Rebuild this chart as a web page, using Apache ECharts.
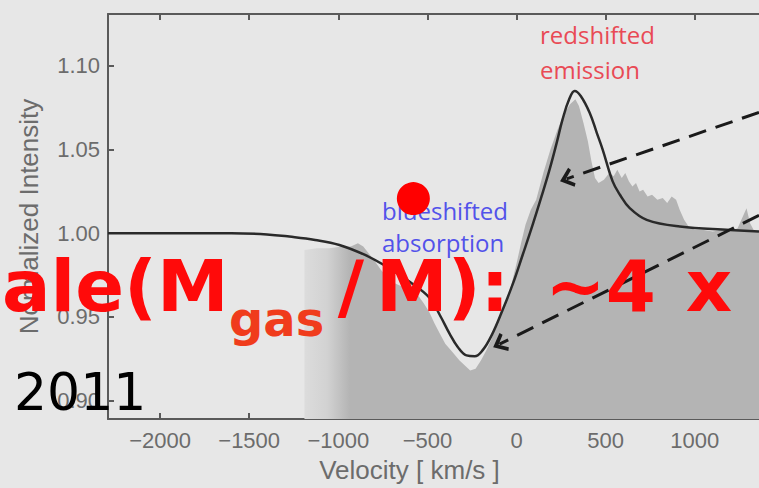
<!DOCTYPE html>
<html><head><meta charset="utf-8">
<script src="https://cdn.jsdelivr.net/npm/echarts@6/dist/echarts.min.js"></script>
<style>html,body{margin:0;padding:0;background:#e7e7e7}#c{width:759px;height:488px}</style>
</head><body><div id="c"></div>
<script>
// Model (black line)
const modelVelocity = [-2292,-1600,-1400,-1275,-1130,-994,-850,-713,-600,-489,-430,-376,-330,-281,-235,-191,-140,-79,-20,34,90,140,185,225,258,295,326,360,410,450,483,539,580,635,730,916,1197,1360];
const modelIntensity = [1.000,1.000,0.9993,0.998,0.996,0.993,0.987,0.979,0.971,0.9615,0.951,0.940,0.932,0.927,0.9265,0.930,0.939,0.954,0.970,0.987,1.005,1.022,1.038,1.054,1.068,1.080,1.085,1.082,1.072,1.060,1.050,1.031,1.023,1.015,1.008,1.004,1.002,1.001];
// Observed spectrum (grey fill)
const spectrumVelocity = [-1190,-1120,-1050,-980,-930,-890,-860,-830,-800,-760,-720,-680,-640,-600,-560,-520,-490,-460,-430,-400,-360,-320,-290,-260,-230,-200,-170,-140,-110,-80,-50,-25,0,25,50,80,110,150,190,230,270,300,330,350,375,400,420,440,460,490,520,545,565,590,610,630,650,670,690,710,735,760,790,820,845,870,895,915,940,965,1000,1050,1100,1150,1200,1240,1265,1290,1310,1330,1360];
const spectrumIntensity = [0.990,0.991,0.991,0.992,0.992,0.994,0.992,0.988,0.984,0.978,0.973,0.970,0.968,0.967,0.964,0.958,0.953,0.946,0.940,0.934,0.929,0.924,0.921,0.918,0.919,0.924,0.930,0.937,0.946,0.953,0.961,0.971,0.982,0.994,1.005,1.014,1.020,1.036,1.050,1.062,1.072,1.077,1.080,1.076,1.066,1.055,1.043,1.033,1.030,1.032,1.036,1.034,1.038,1.033,1.036,1.031,1.028,1.030,1.025,1.026,1.022,1.023,1.020,1.021,1.018,1.022,1.020,1.014,1.008,1.004,1.002,1.002,1.001,1.002,1.001,1.003,1.009,1.015,1.006,1.002,1.001];
// Tick labels
const xTickValues = [-2000,-1500,-1000,-500,0,500,1000];
const yTickValues = [0.90,0.95,1.00,1.05,1.10];
// Marker dot and dashed arrows (data coordinates)
const markerPoint = [-579, 1.0207];
const arrowStarts = [[1360,1.0722],[1360,1.0107]];
const arrowEnds = [[281,1.0325],[-96,0.9337]];

const zip = (a,b) => a.map((v,i)=>[v,b[i]]);
const axisGrey = '#6c6c6c';
const xFmt = v => v < 0 ? '\u2212' + (-v) : String(v);

const chart = echarts.init(document.getElementById('c'), null, {renderer:'svg'});
chart.setOption({
  backgroundColor:'#e7e7e7',
  animation:false,
  grid:{left:108, top:14, right:0, bottom:67},
  xAxis:[{
    type:'value', min:-2292, max:1360, position:'bottom',
    name:'Velocity [ km/s ]', nameLocation:'middle', nameGap:38,
    nameTextStyle:{fontFamily:'Liberation Sans', fontSize:26, color:axisGrey, padding:[0,48,0,0]},
    axisLine:{show:true, onZero:false, lineStyle:{color:'#5a5a5a', width:2}},
    axisTick:{show:true, inside:true, length:6, customValues:xTickValues, lineStyle:{color:'#5a5a5a', width:2}},
    axisLabel:{customValues:xTickValues, formatter:xFmt, margin:10, fontFamily:'Liberation Sans', fontSize:22, color:axisGrey},
    splitLine:{show:false}
  },{
    type:'value', min:-2292, max:1360, position:'top',
    axisLine:{show:true, onZero:false, lineStyle:{color:'#5a5a5a', width:2}},
    axisTick:{show:true, inside:true, length:6, customValues:xTickValues, lineStyle:{color:'#5a5a5a', width:2}},
    axisLabel:{show:false}, splitLine:{show:false}
  }],
  yAxis:{
    type:'value', min:0.889, max:1.131,
    name:'Normalized Intensity', nameLocation:'middle', nameGap:66,
    nameTextStyle:{fontFamily:'Liberation Sans', fontSize:26, color:axisGrey},
    axisLine:{show:true, onZero:false, lineStyle:{color:'#5a5a5a', width:2}},
    axisTick:{show:true, inside:true, length:6, customValues:yTickValues, lineStyle:{color:'#5a5a5a', width:2}},
    axisLabel:{customValues:yTickValues, formatter:v=>v.toFixed(2), margin:8, fontFamily:'Liberation Sans', fontSize:22, color:axisGrey},
    splitLine:{show:false}
  },
  series:[{
    type:'line', data:zip(spectrumVelocity, spectrumIntensity), symbol:'none', z:1,
    lineStyle:{width:0},
    areaStyle:{origin:'start', opacity:1, color:new echarts.graphic.LinearGradient(0,0,1,0,[
      {offset:0,color:'#dcdcdc'},{offset:0.05,color:'#d2d2d2'},{offset:0.10,color:'#b4b4b4'},{offset:1,color:'#b4b4b4'}])}
  },{
    type:'line', data:zip(modelVelocity, modelIntensity), symbol:'none', smooth:0.4, z:3,
    lineStyle:{color:'#2a2a2a', width:2.5}
  },{
    type:'scatter', data:[markerPoint], symbolSize:33, z:5,
    itemStyle:{color:'#ff0000', opacity:1}
  },{
    type:'line', data:[], z:60,
    markLine:{
      silent:true, animation:false,
      symbol:['none','path://M0,12 L10,0 L20,12 L17,14 L10,6 L3,14 Z'], symbolSize:[20,14],
      label:{show:false},
      lineStyle:{color:'#1a1a1a', width:3, type:[18,10]},
      data:arrowStarts.map((s,i)=>[{coord:s},{coord:arrowEnds[i]}])
    }
  }],
  graphic:[
    {type:'text', x:540, y:17, z:4, style:{text:'redshifted\nemission', font:'24px "Open Sans"', lineHeight:35, fill:'#e94a55'}},
    {type:'text', x:382, y:194, z:4, style:{text:'blueshifted\nabsorption', font:'24px "Open Sans"', lineHeight:32, fill:'#5252ea'}},
    {type:'text', x:2, y:250, z:50, style:{text:'ale(M', font:'bold 72px "DejaVu Sans"', fill:'#ff0a0a'}},
    {type:'text', x:229, y:295, z:50, style:{text:'gas', font:'bold 48px "DejaVu Sans"', fill:'#f03c1c'}},
    {type:'text', x:326, y:250, z:50, style:{
      text:'{sl|/}{t|M):}{sp| }{t|~4}{sp2| }{t|x}',
      rich:{
        sl:{font:'bold 72px "DejaVu Sans"', fill:'#ff0a0a', width:50, align:'center'},
        t:{font:'bold 72px "DejaVu Sans"', fill:'#ff0a0a'},
        sp:{font:'bold 72px "DejaVu Sans"', width:36},
        sp2:{font:'bold 72px "DejaVu Sans"', width:30}
      }}},
    {type:'text', x:14, y:366, z:50, style:{text:'2011', font:'52px "DejaVu Sans"', fill:'#000000'}}
  ]
});
</script></body></html>
